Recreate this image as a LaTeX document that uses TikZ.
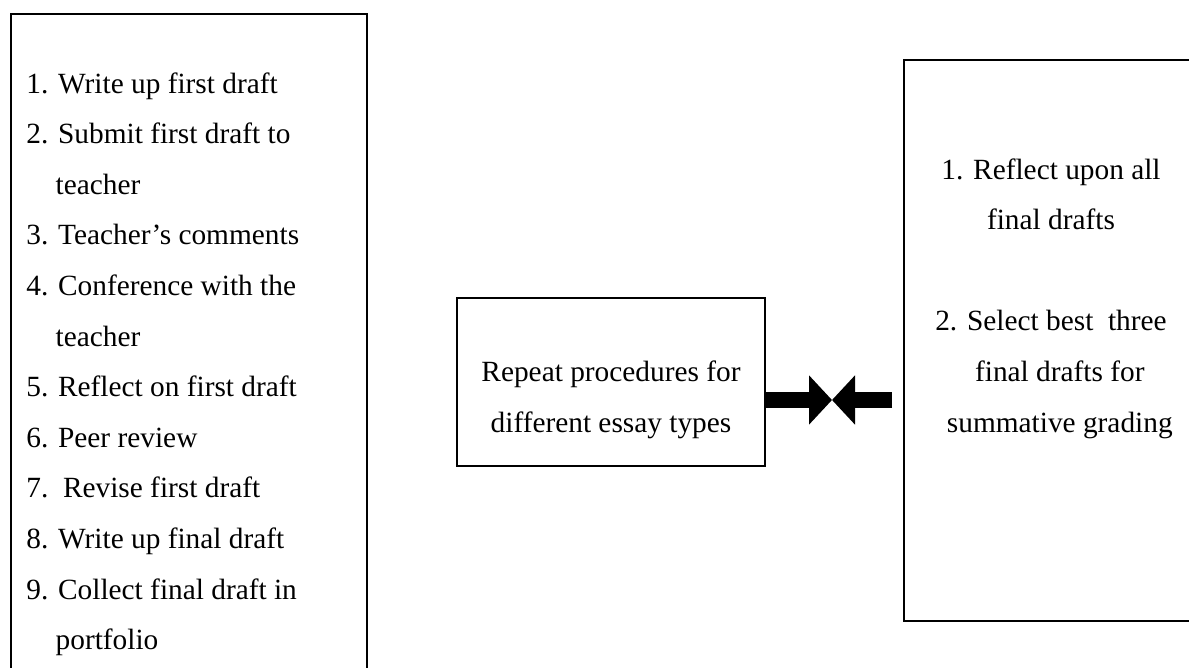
\documentclass[tikz,border=0pt]{standalone}
\usepackage{fontspec}
\setmainfont{Liberation Serif}
\usetikzlibrary{arrows.meta}
\tikzset{
  box/.style={draw,line width=1.1pt,inner sep=0pt},
  txt/.style={inner sep=0pt,font=\fontsize{16.7}{28.8}\selectfont},
  bar/.style={line width=9pt}
}
\begin{document}
\begin{tikzpicture}[x=0.02cm,y=-0.02cm]
\useasboundingbox (0,0) rectangle (1189,668);
\clip (0,0) rectangle (1189,668);
% the three boxes
\node[box,anchor=north west,minimum width=7.12cm,minimum height=14cm] (steps) at (10,13) {};
\node[box,minimum width=6.16cm,minimum height=3.36cm] (repeat) at (611,382) {};
\node[box,anchor=north west,minimum width=7cm,minimum height=11.22cm] (final) at (903,59) {};
% texts
\node[txt,anchor=north west,align=left] (stepstext) at (26,72) {1. Write up first draft\\
2. Submit first draft to\\
\phantom{2.}\ teacher\\
3. Teacher’s comments\\
4. Conference with the\\
\phantom{4.}\ teacher\\
5. Reflect on first draft\\
6. Peer review\\
7.\ \ Revise first draft\\
8. Write up final draft\\
9. Collect final draft in\\
\phantom{9.}\ portfolio};
\node[txt,align=center] (repeattext) at (611,400) {Repeat procedures for\\different essay types};
\node[txt,anchor=north,align=center] (finaltext) at (1051,158) {1. Reflect upon all\\final drafts\\[28.8pt]
2. Select best\ \ three\\\hspace*{.6em}final drafts for\\\hspace*{.6em}summative grading};
% connector
\coordinate (meet) at (832,400);
\coordinate (barend) at (892,400);
\draw[bar,-{Triangle[length=0.46cm,width=0.96cm]}] (repeat.east |- meet) -- (meet);
\draw[bar,-{Triangle[length=0.46cm,width=0.96cm]}] (barend) -- (meet);
\end{tikzpicture}
\end{document}
